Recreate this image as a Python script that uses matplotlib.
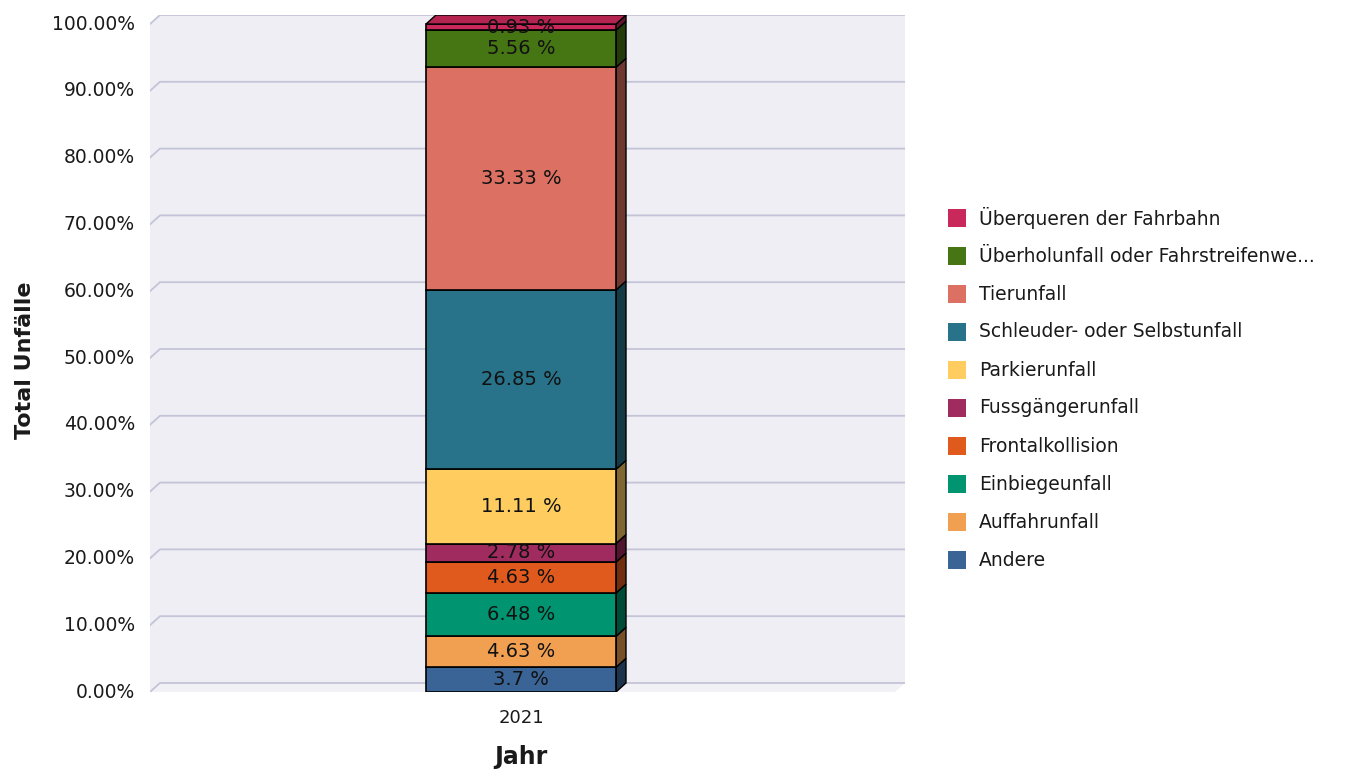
import matplotlib.pyplot as plt
import matplotlib.colors as mcolors
from matplotlib.patches import Polygon, Rectangle
import numpy as np

# data (bottom to top of the stack)
categories = ["Andere", "Auffahrunfall", "Einbiegeunfall", "Frontalkollision",
              "Fussgängerunfall", "Parkierunfall", "Schleuder- oder Selbstunfall",
              "Tierunfall", "Überholunfall oder Fahrstreifenwe...",
              "Überqueren der Fahrbahn"]
values = [3.7, 4.63, 6.48, 4.63, 2.78, 11.11, 26.85, 33.33, 5.56, 0.93]
colors = ["#3A6496", "#F0A050", "#009470", "#E05A1E", "#A02C5F",
          "#FFCC60", "#28738A", "#DC7062", "#467614", "#C8285A"]
year = "2021"
yticks = np.arange(0, 101, 10)

W, H = 1346, 770
fig = plt.figure(figsize=(W / 100, H / 100), dpi=100)
plt.rcParams['font.family'] = ['DejaVu Sans']

# axes covering the 3d box (pixels: left 150, right 905, front bottom 692, back top 15)
ax = fig.add_axes([150 / W, (H - 692) / H, (905 - 150) / W, (692 - 15) / H])
D = 1.35           # depth in y units
dx = 10 / 380      # depth in x units
x0 = (150 - 521) / 380
x1 = (895 - 521) / 380
ax.set_xlim(x0, x1 + dx)
ax.set_ylim(0, 100 + D)
ax.axis("off")

wall = "#EEEEF4"
grid = "#C4C4D8"
ax.add_patch(Polygon([(x0 + dx, D), (x1 + dx, D), (x1 + dx, 100 + D), (x0 + dx, 100 + D)],
                     closed=True, fc=wall, ec="none", zorder=0))
ax.add_patch(Polygon([(x0, 0), (x0 + dx, D), (x0 + dx, 100 + D), (x0, 100)],
                     closed=True, fc=wall, ec="none", zorder=0))
ax.add_patch(Polygon([(x0, 0), (x1, 0), (x1 + dx, D), (x0 + dx, D)],
                     closed=True, fc="#F2F2F6", ec="none", zorder=0))

for t in yticks:
    ax.plot([x0, x0 + dx, x1 + dx], [t, t + D, t + D], color=grid, lw=1.3, zorder=1)
    ax.text(x0 - 15 / 380, t, "%.2f%%" % t, ha="right", va="center",
            fontsize=13.5, color="#1a1a1a")

# stacked bar with 3d look
hw = 0.25
bottom = 0
for i in range(len(values)):
    v = values[i]
    c = colors[i]
    dark = tuple(np.array(mcolors.to_rgb(c)) * 0.5)
    ax.add_patch(Rectangle((-hw, bottom), 2 * hw, v, fc=c, ec="black", lw=1.2, zorder=3))
    ax.add_patch(Polygon([(hw, bottom), (hw + dx, bottom + D), (hw + dx, bottom + v + D), (hw, bottom + v)],
                         closed=True, fc=dark, ec="black", lw=1.0, zorder=2))
    ax.text(0, bottom + v / 2, "%s %%" % ("%g" % v), ha="center", va="center",
            fontsize=14, color="#111111", zorder=5)
    bottom += v

top_rgb = np.array(mcolors.to_rgb(colors[-1]))
ax.add_patch(Polygon([(-hw, bottom), (-hw + dx, bottom + D), (hw + dx, bottom + D), (hw, bottom)],
                     closed=True, fc=tuple(top_rgb * 0.9), ec="black", lw=1.0, zorder=4))

ax.text(0, (692 - 718) / 6.68, year, ha="center", va="center", fontsize=13, color="#1a1a1a")
ax.text(0, (692 - 757) / 6.68, "Jahr", ha="center", va="center", fontsize=17,
        fontweight="bold", color="#1a1a1a")
fig.text(25 / W, 1 - 360 / H, "Total Unfälle", rotation=90, ha="center", va="center",
         fontsize=16, fontweight="bold", color="#1a1a1a")

# legend (top to bottom = top of stack first)
for j, i in enumerate(range(len(categories) - 1, -1, -1)):
    yc = 218 + 38 * j
    fig.patches.append(Rectangle((948 / W, 1 - (yc + 9) / H), 18 / W, 18 / H,
                                 transform=fig.transFigure, fc=colors[i], ec="none"))
    fig.text(979 / W, 1 - yc / H, categories[i], ha="left", va="center",
             fontsize=13.5, color="#1a1a1a")

fig.savefig("out.png", dpi=100)
